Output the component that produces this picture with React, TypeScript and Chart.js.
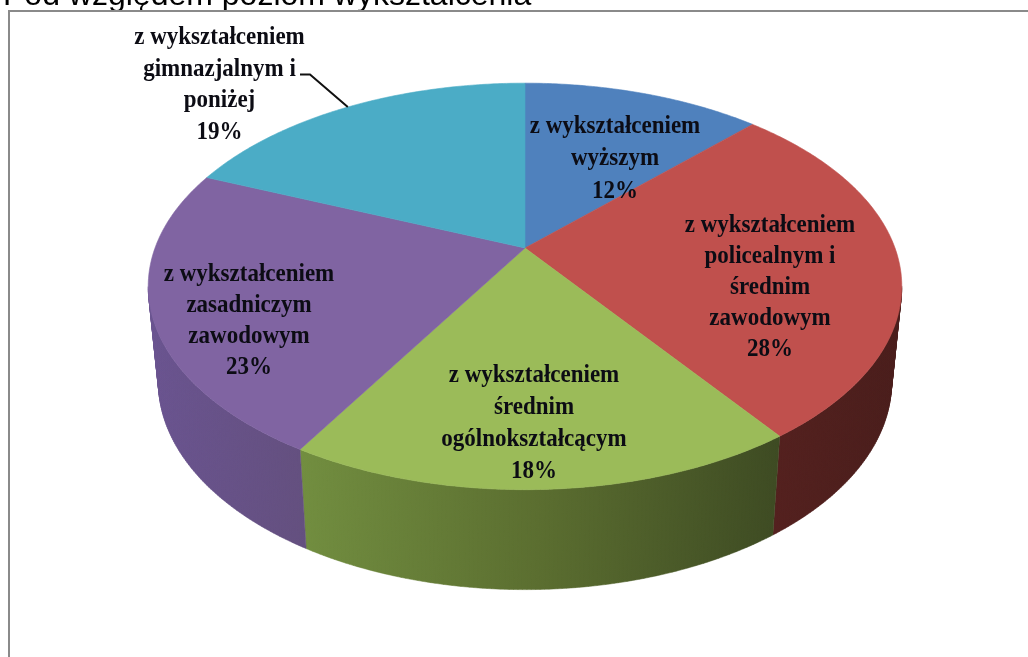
import React, { useEffect, useRef } from "react";
import { Chart, registerables } from "chart.js";

Chart.register(...registerables);

const categories = [
  "z wykształceniem wyższym",
  "z wykształceniem policealnym i średnim zawodowym",
  "z wykształceniem średnim ogólnokształcącym",
  "z wykształceniem zasadniczym zawodowym",
  "z wykształceniem gimnazjalnym i poniżej",
];
const shares = [12.3, 27.8, 18.4, 22.8, 18.7];
const topColors = ["#4f81bd", "#c0504d", "#9bbb59", "#8064a2", "#4bacc6"];
const wallStops = [
  ["#2f4d71", "#2f4d71"],
  ["#54211f", "#4a1e1c"],
  ["#728e40", "#5b6e30", "#3e4b23"],
  ["#6a5490", "#64507f"],
  ["#2d6776", "#2d6776"],
];
const labelLines = [
  ["z wykształceniem", "wyższym", "12%"],
  ["z wykształceniem", "policealnym i", "średnim", "zawodowym", "28%"],
  ["z wykształceniem", "średnim", "ogólnokształcącym", "18%"],
  ["z wykształceniem", "zasadniczym", "zawodowym", "23%"],
  ["z wykształceniem", "gimnazjalnym i", "poniżej", "19%"],
];
const titleText = "Pod względem poziom wykształcenia";

// layout of the labels (centre x, first-line y, line step)
const labelLayout = [
  { x: 615, y: 126.5, step: 32.5 },
  { x: 770, y: 225.5, step: 31 },
  { x: 534, y: 375.5, step: 32 },
  { x: 249, y: 274.5, step: 31 },
  { x: 219.5, y: 38, step: 31.5 },
];

// perspective projection of the pie's circle onto the page
const top = { cx: 525, cy: 248, ax: 370, by: 196, k: 0.189 };
const bottom = { cx: 525, cy: 343, ax: 360, by: 200, k: 0.189 };

type Proj = typeof top;
const project = (p: Proj, a: number) => {
  const u = Math.cos(a);
  const v = Math.sin(a);
  const d = 1 - p.k * v;
  return [p.cx + (p.ax * u) / d, p.cy + (p.by * v) / d];
};

const angles = (a0: number, a1: number) => {
  const n = Math.max(2, Math.ceil((a1 - a0) / 0.01));
  const out: number[] = [];
  for (let i = 0; i <= n; i++) out.push(a0 + ((a1 - a0) * i) / n);
  return out;
};

const pie3d = {
  id: "pie3d",
  beforeDraw(chart: any) {
    const { ctx, width, height } = chart;
    ctx.save();
    ctx.fillStyle = "#ffffff";
    ctx.fillRect(0, 0, width, height);
    ctx.fillStyle = "#000000";
    ctx.font = "32px 'Liberation Sans'";
    ctx.textAlign = "left";
    ctx.textBaseline = "alphabetic";
    ctx.fillText(titleText, 3, 4.5);
    ctx.strokeStyle = "#8a8a8a";
    ctx.lineWidth = 2;
    ctx.beginPath();
    ctx.moveTo(9, height);
    ctx.lineTo(9, 11);
    ctx.lineTo(width, 11);
    ctx.stroke();
    ctx.restore();
  },
  beforeDatasetDraw(chart: any) {
    const { ctx } = chart;
    const arcs = chart.getDatasetMeta(0).data;
    ctx.save();
    ctx.filter = "blur(0.5px)";
    arcs.forEach((arc: any, i: number) => {
      // only the near side of the wall can be seen
      const as = angles(arc.startAngle, arc.endAngle).filter((a) => Math.sin(a) >= top.k);
      if (as.length < 2) return;
      const t = as.map((a) => project(top, a));
      const b = as.map((a) => project(bottom, a));
      const xs = t.concat(b).map((q) => q[0]);
      const g = ctx.createLinearGradient(Math.min(...xs), 0, Math.max(...xs), 0);
      wallStops[i].forEach((c, j, all) => g.addColorStop(j / (all.length - 1), c));
      ctx.fillStyle = g;
      ctx.strokeStyle = g;
      ctx.lineWidth = 0.5;
      ctx.beginPath();
      for (let j = 0; j + 1 < t.length; j++) {
        ctx.moveTo(t[j][0], t[j][1]);
        ctx.lineTo(t[j + 1][0], t[j + 1][1]);
        ctx.lineTo(b[j + 1][0], b[j + 1][1]);
        ctx.lineTo(b[j][0], b[j][1]);
        ctx.closePath();
      }
      ctx.fill("nonzero");
      ctx.stroke();
    });
    arcs.forEach((arc: any, i: number) => {
      const t = angles(arc.startAngle, arc.endAngle).map((a) => project(top, a));
      ctx.fillStyle = topColors[i];
      ctx.strokeStyle = topColors[i];
      ctx.lineWidth = 0.6;
      ctx.beginPath();
      ctx.moveTo(top.cx, top.cy);
      t.forEach((q) => ctx.lineTo(q[0], q[1]));
      ctx.closePath();
      ctx.fill();
      ctx.stroke();
    });
    ctx.restore();
    return false;
  },
  afterDatasetsDraw(chart: any) {
    const { ctx } = chart;
    ctx.save();
    ctx.filter = "blur(0.4px)";
    ctx.strokeStyle = "#111111";
    ctx.lineWidth = 2;
    ctx.beginPath();
    const cyan = chart.getDatasetMeta(0).data[4];
    const end = project(top, (cyan.startAngle + cyan.endAngle) / 2);
    ctx.moveTo(300, 74.5);
    ctx.lineTo(310, 74.5);
    ctx.lineTo(end[0], end[1]);
    ctx.stroke();
    ctx.fillStyle = "#0c0c14";
    ctx.font = "bold 25px 'Liberation Serif'";
    ctx.textAlign = "center";
    ctx.textBaseline = "middle";
    labelLines.forEach((lines, i) => {
      const l = labelLayout[i];
      lines.forEach((s, j) => {
        ctx.save();
        ctx.translate(l.x, l.y + j * l.step);
        ctx.scale(0.92, 1);
        ctx.fillText(s, 0, 0);
        ctx.restore();
      });
    });
    ctx.restore();
  },
};

export default function App() {
  const ref = useRef<HTMLCanvasElement>(null);
  useEffect(() => {
    const chart = new Chart(ref.current!, {
      type: "pie",
      data: {
        labels: categories,
        datasets: [{ data: shares, backgroundColor: topColors, borderWidth: 0 }],
      },
      options: {
        responsive: false,
        animation: false,
        plugins: { legend: { display: false }, tooltip: { enabled: false }, title: { display: false } },
      },
      plugins: [pie3d],
    } as any);
    return () => chart.destroy();
  }, []);
  return (
    <div style={{ position: "absolute", left: 0, top: 0, width: 1028, height: 657 }}>
      <canvas ref={ref} width={1028} height={657} style={{ display: "block" }} />
    </div>
  );
}
